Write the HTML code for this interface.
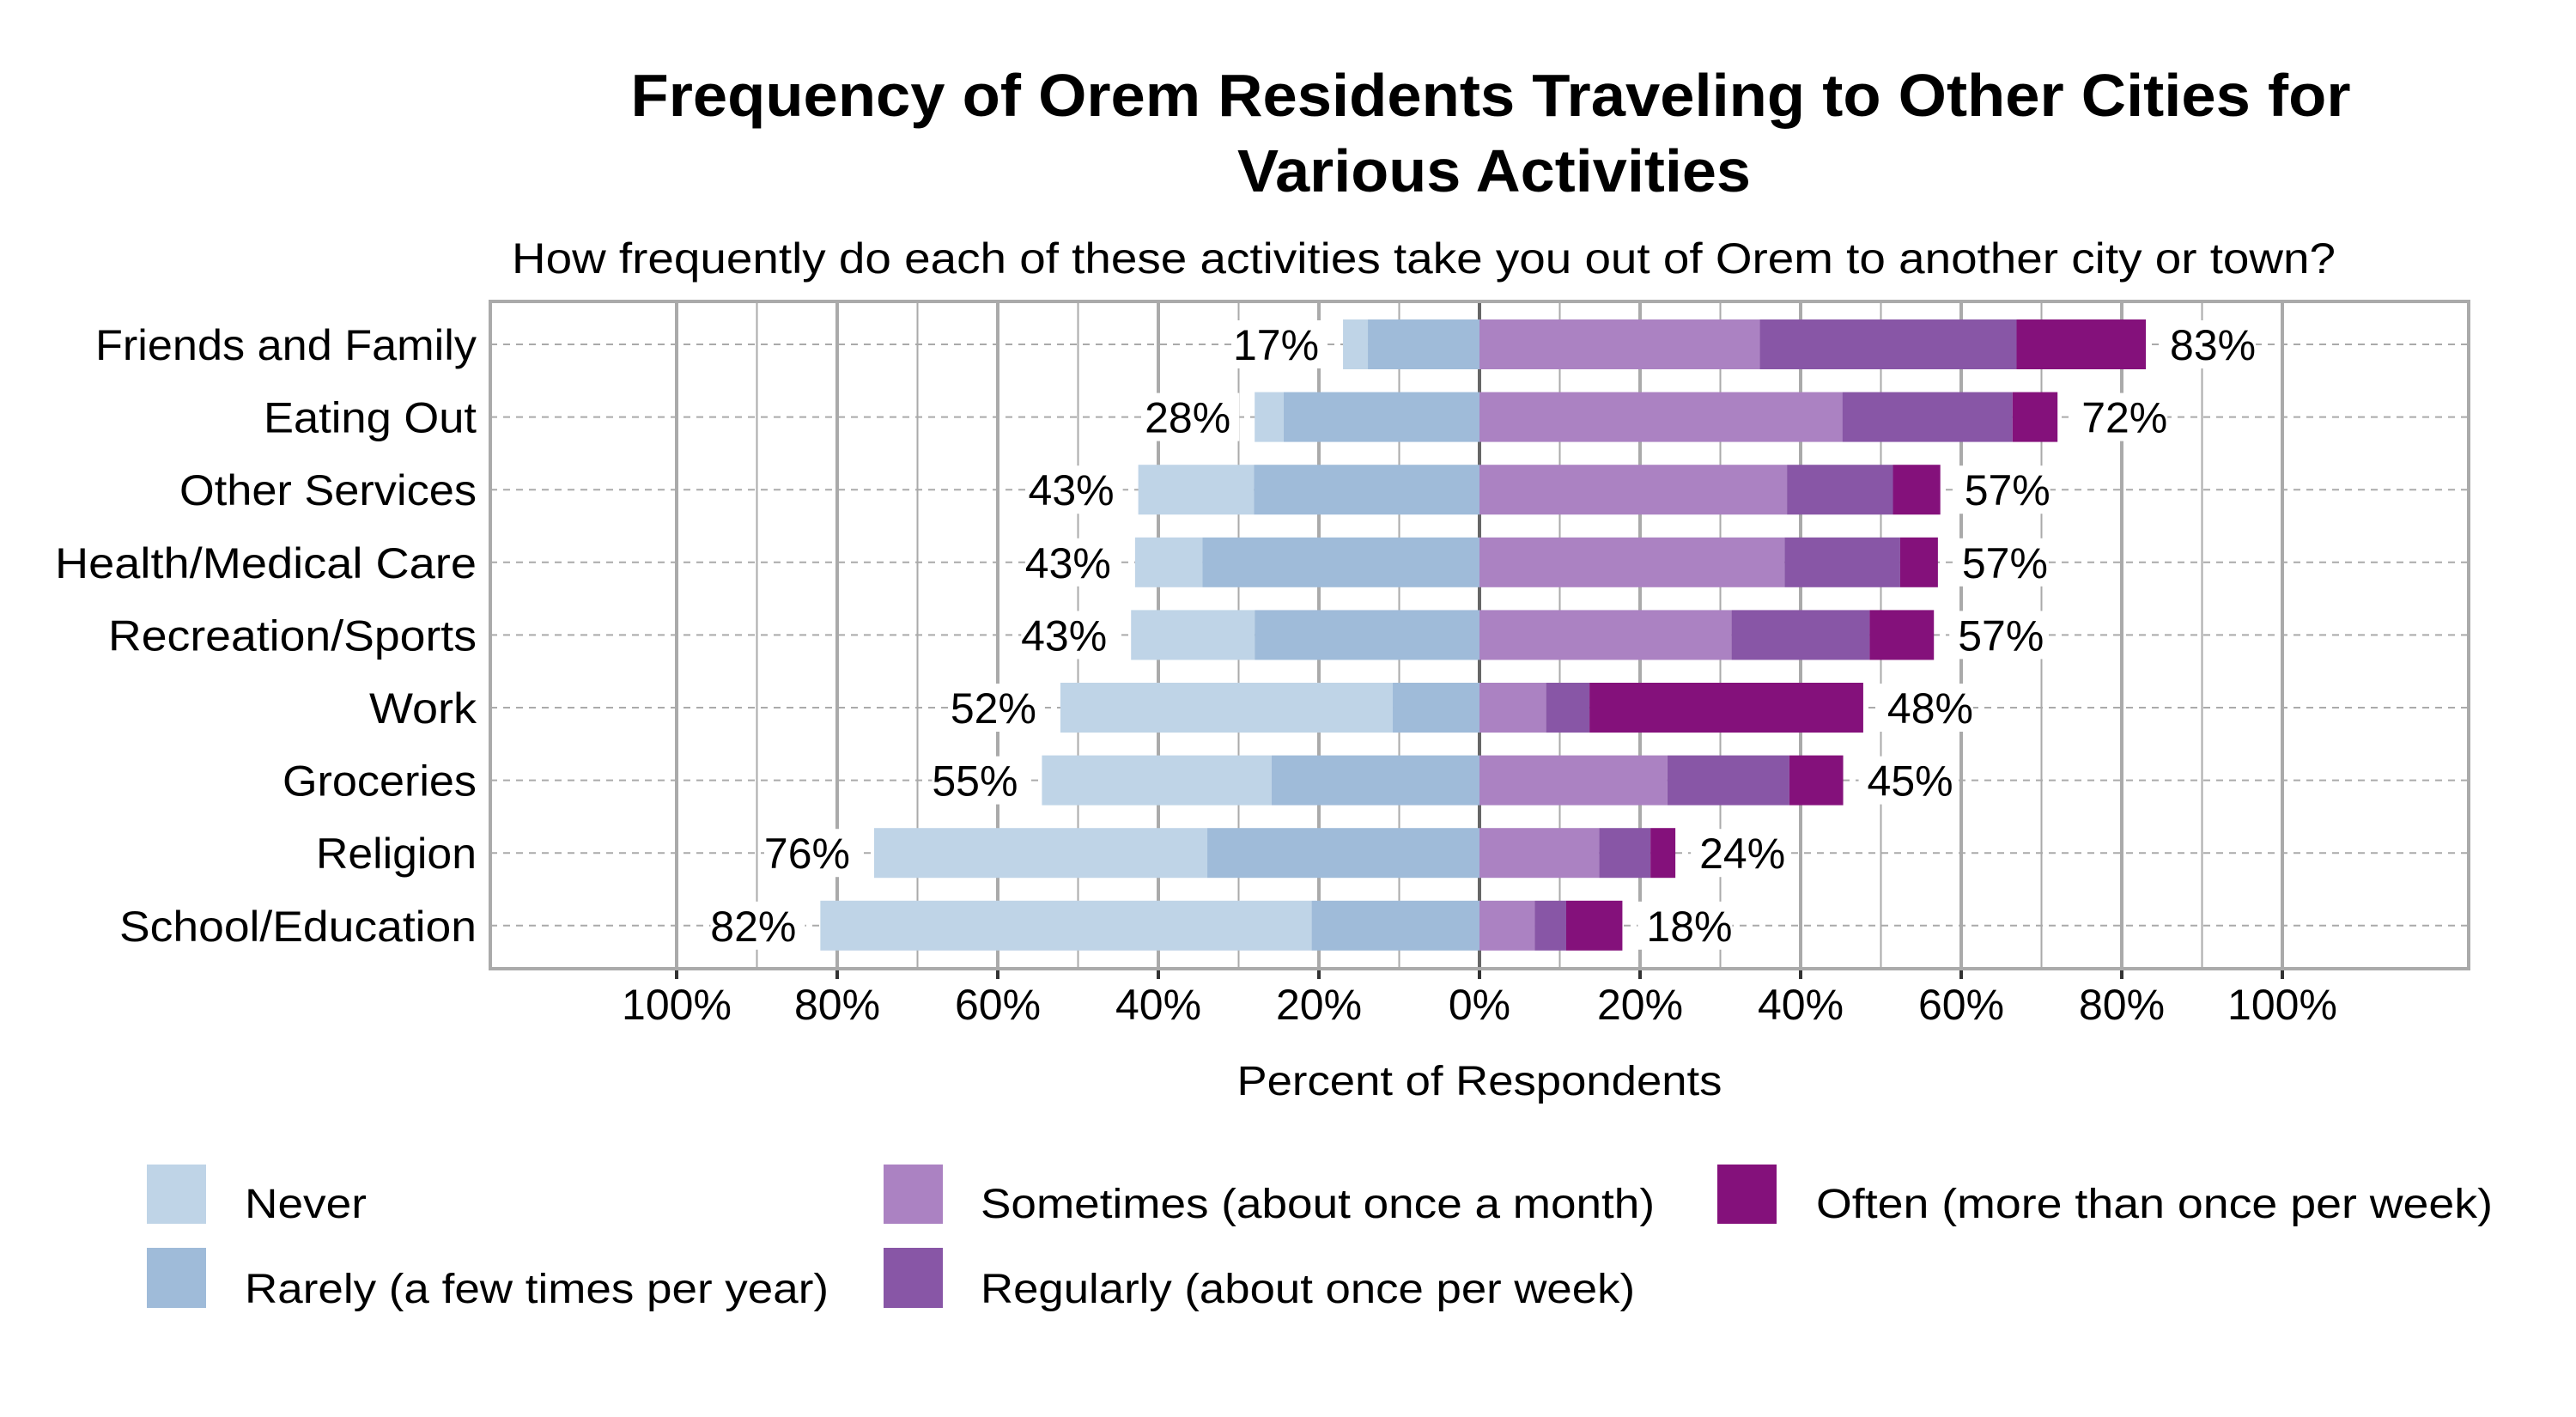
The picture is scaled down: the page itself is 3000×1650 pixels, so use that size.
<!DOCTYPE html>
<html><head><meta charset="utf-8"><style>html,body{margin:0;padding:0;background:#fff}svg{display:block}text{font-family:"Liberation Sans",sans-serif;fill:#000}</style></head>
<body>
<svg width="3000" height="1650" viewBox="0 0 3000 1650" xmlns="http://www.w3.org/2000/svg">
<rect width="3000" height="1650" fill="#fff"/>
<text x="1736" y="135" font-size="70" font-weight="bold" text-anchor="middle" textLength="2003" lengthAdjust="spacingAndGlyphs">Frequency of Orem Residents Traveling to Other Cities for</text>
<text x="1740" y="223" font-size="70" font-weight="bold" text-anchor="middle" textLength="598" lengthAdjust="spacingAndGlyphs">Various Activities</text>
<text x="1658" y="318" font-size="50" text-anchor="middle" textLength="2124" lengthAdjust="spacingAndGlyphs">How frequently do each of these activities take you out of Orem to another city or town?</text>
<g id="grid"></g>
<g id="bars"></g>
<g id="labels"></g>
<rect x="571" y="351" width="2304" height="777" fill="none" stroke="#aaa" stroke-width="4"/>
<text x="1723" y="1275" font-size="48" text-anchor="middle" textLength="565" lengthAdjust="spacingAndGlyphs">Percent of Respondents</text>
<g id="legend">
<rect x="171" y="1356" width="69" height="69" fill="#bfd4e7"/>
<rect x="171" y="1453" width="69" height="70" fill="#9fbbd9"/>
<rect x="1029" y="1356" width="69" height="69" fill="#ab82c2"/>
<rect x="1029" y="1453" width="69" height="70" fill="#8856a6"/>
<rect x="2000" y="1356" width="69" height="69" fill="#84117b"/>
<text x="285" y="1418" font-size="48" textLength="142" lengthAdjust="spacingAndGlyphs">Never</text>
<text x="285" y="1517" font-size="48" textLength="680" lengthAdjust="spacingAndGlyphs">Rarely (a few times per year)</text>
<text x="1142" y="1418" font-size="48" textLength="785" lengthAdjust="spacingAndGlyphs">Sometimes (about once a month)</text>
<text x="1142" y="1517" font-size="48" textLength="762" lengthAdjust="spacingAndGlyphs">Regularly (about once per week)</text>
<text x="2115" y="1418" font-size="48" textLength="788" lengthAdjust="spacingAndGlyphs">Often (more than once per week)</text>
</g>
<script>
var NS="http://www.w3.org/2000/svg";
function el(p,t,a,txt){var e=document.createElementNS(NS,t);for(var k in a)e.setAttribute(k,a[k]);if(txt)e.textContent=txt;document.getElementById(p).appendChild(e);return e;}
var Z=1723,S=9.35,T=351,B=1128,L=571,R=2875;
for(var p=-100;p<=100;p+=10){var x=Z+p*S;
 var maj=(p%20===0);el("grid","line",{x1:x,y1:T,x2:x,y2:B,stroke:p===0?"#666":"#aaa","stroke-width":maj?4:2});}
var cats=["Friends and Family","Eating Out","Other Services","Health/Medical Care","Recreation/Sports","Work","Groceries","Religion","School/Education"];
var starts=[111,307,209,64,126,430,329,368,139];
var data=[[17,13.9,34.9,66.9,83],[28,24.4,45.2,66.4,72],[42.5,28.1,38.3,51.5,57.4],[42.9,34.5,38,52.4,57.1],[43.4,28,31.4,48.6,56.6],[52.2,10.8,8.3,13.7,47.8],[54.5,25.9,23.4,38.6,45.3],[75.4,33.9,14.9,21.3,24.4],[82.1,20.9,6.9,10.8,17.8]];
var lv=[[17,83],[28,72],[43,57],[43,57],[43,57],[52,48],[55,45],[76,24],[82,18]];
for(var i=0;i<9;i++){var cy=401+i*84.6;var d=data[i];
 el("grid","line",{x1:L,y1:cy,x2:R,y2:cy,stroke:"#aaa","stroke-width":2,"stroke-dasharray":"8 7"});
 el("labels","text",{x:555,y:cy+18,"font-size":50,"text-anchor":"end",textLength:555-starts[i],lengthAdjust:"spacingAndGlyphs"},cats[i]);
 var y=cy-29,h=58;
 el("bars","rect",{x:Z-d[0]*S,y:y,width:(d[0]-d[1])*S,height:h,fill:"#bfd4e7"});
 el("bars","rect",{x:Z-d[1]*S,y:y,width:d[1]*S,height:h,fill:"#9fbbd9"});
 el("bars","rect",{x:Z,y:y,width:d[2]*S,height:h,fill:"#ab82c2"});
 el("bars","rect",{x:Z+d[2]*S,y:y,width:(d[3]-d[2])*S,height:h,fill:"#8856a6"});
 el("bars","rect",{x:Z+d[3]*S,y:y,width:(d[4]-d[3])*S,height:h,fill:"#84117b"});
 var lx=Z-d[0]*S-28, rx=Z+d[4]*S+28;
 el("labels","rect",{x:lx-100,y:cy-28,width:110,height:56,fill:"#fff"});
 el("labels","rect",{x:rx-10,y:cy-28,width:110,height:56,fill:"#fff"});
 el("labels","text",{x:lx,y:cy+18,"font-size":50,"text-anchor":"end"},lv[i][0]+"%");
 el("labels","text",{x:rx,y:cy+18,"font-size":50},lv[i][1]+"%");
}
for(var p=-100;p<=100;p+=20){var x=Z+p*S;
 el("labels","line",{x1:x,y1:B,x2:x,y2:B+12,stroke:"#333","stroke-width":4});
 el("labels","text",{x:x,y:1187,"font-size":50,"text-anchor":"middle"},Math.abs(p)+"%");}
</script>
</svg>
</body></html>
